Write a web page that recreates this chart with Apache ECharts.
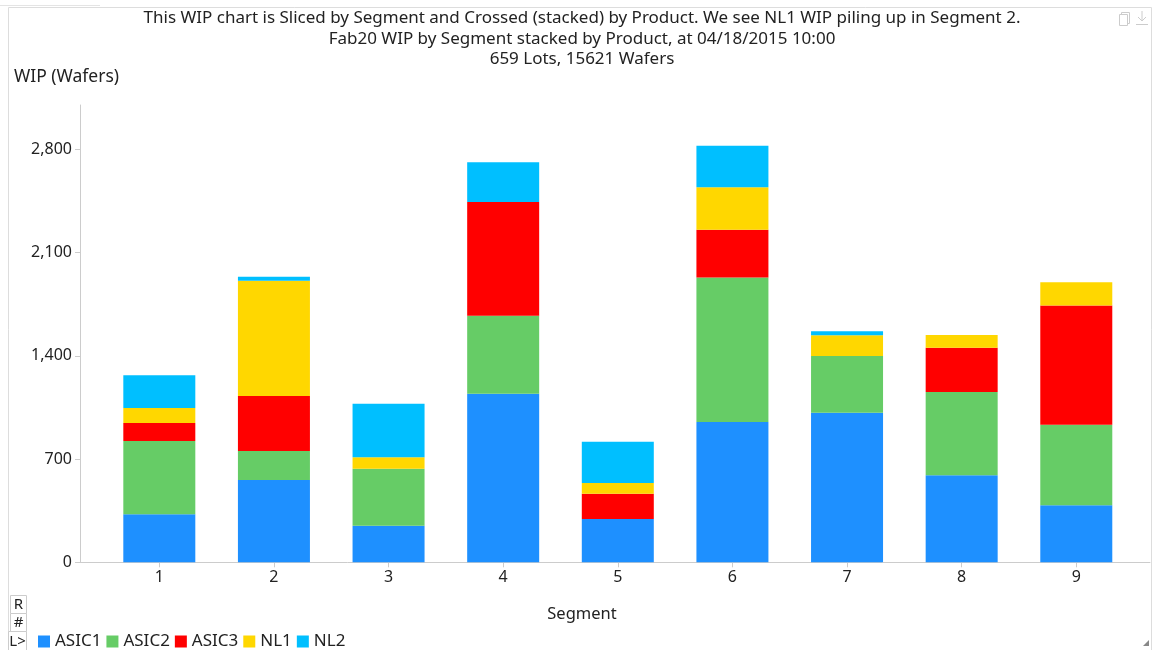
<!DOCTYPE html>
<html>
<head>
<meta charset="utf-8">
<script src="https://cdn.jsdelivr.net/npm/echarts@6/dist/echarts.min.js"></script>
<style>html,body{margin:0;padding:0;background:#fff;}#c{width:1156px;height:650px;}</style>
</head>
<body>
<div id="c"></div>
<script>
var categories = ['1','2','3','4','5','6','7','8','9'];
var seriesNames = ['ASIC1','ASIC2','ASIC3','NL1','NL2'];
var asic1 = [325, 558, 248, 1143, 294, 951, 1014, 590, 386];
var asic2 = [497, 197, 387, 529, 0, 979, 385, 565, 547];
var asic3 = [122, 373, 0, 771, 171, 325, 0, 300, 807];
var nl1   = [102, 781, 77, 0, 73, 288, 140, 86, 158];
var nl2   = [222, 27, 363, 269, 280, 280, 27, 0, 0];
var yTicks = [0, 700, 1400, 2100, 2800];
var titleLines = [
  'This WIP chart is Sliced by Segment and Crossed (stacked) by Product. We see NL1 WIP piling up in Segment 2.',
  'Fab20 WIP by Segment stacked by Product, at 04/18/2015 10:00',
  '659 Lots, 15621 Wafers'
];
var colors = ['#1E90FF', '#66CC66', '#FF0000', '#FFD700', '#00BFFF'];
var allValues = [asic1, asic2, asic3, nl1, nl2];

var FONT = '"Noto Sans", "Open Sans", sans-serif';
var TXT = '#222';
var chart = echarts.init(document.getElementById('c'), null, {renderer: 'canvas'});

var series = seriesNames.map(function (name, s) {
  return {
    name: name,
    type: 'bar',
    stack: 'total',
    barWidth: 72,
    xAxisIndex: 0, yAxisIndex: 0,
    itemStyle: {color: colors[s]},
    data: allValues[s].slice()
  };
});

chart.setOption({
  animation: false,
  textStyle: {fontFamily: FONT},
  title: [{
    text: titleLines.join('\n'),
    left: 582, textAlign: 'center', top: 8, padding: 0,
    textStyle: {fontFamily: FONT, fontSize: 17, fontWeight: 'normal', color: TXT, lineHeight: 20.5}
  }, {
    text: 'WIP (Wafers)',
    left: 14, top: 68, padding: 0,
    textStyle: {fontFamily: FONT, fontSize: 17.5, fontWeight: 'normal', color: TXT}
  }, {
    text: 'Segment',
    left: 582, textAlign: 'center', top: 606, padding: 0,
    textStyle: {fontFamily: FONT, fontSize: 16.5, fontWeight: 'normal', color: TXT}
  }],
  legend: {
    left: 38, top: 633, padding: 0,
    itemWidth: 12, itemHeight: 12, itemGap: 5,
    icon: 'rect',
    textStyle: {fontFamily: FONT, fontSize: 17, color: TXT},
    data: seriesNames
  },
  grid: [
    {left: 102, right: 22.4, top: 105, bottom: 87.7, containLabel: false},
    {left: 80, right: 6, top: 105, bottom: 87.7, containLabel: false}
  ],
  xAxis: [{
    type: 'category', gridIndex: 0,
    data: categories,
    boundaryGap: true,
    axisLine: {show: false},
    axisTick: {show: true, alignWithLabel: true, length: 5, lineStyle: {color: '#ccc'}},
    axisLabel: {margin: 7, fontSize: 16, color: TXT, fontFamily: FONT},
    splitLine: {show: false}
  }, {
    type: 'value', gridIndex: 1, min: 0, max: 1,
    axisLine: {show: true, lineStyle: {color: '#ccc'}},
    axisTick: {show: false}, axisLabel: {show: false}, splitLine: {show: false}
  }],
  yAxis: [{
    type: 'value', gridIndex: 0,
    min: 0, max: 3100, interval: 700,
    axisLine: {show: false}, axisTick: {show: false}, axisLabel: {show: false}, splitLine: {show: false}
  }, {
    type: 'value', gridIndex: 1,
    min: 0, max: 3100, interval: 700,
    axisLine: {show: true, lineStyle: {color: '#ccc'}},
    axisTick: {show: true, length: 5, lineStyle: {color: '#ccc'}},
    axisLabel: {fontSize: 16, color: TXT, fontFamily: FONT, margin: 8, showMaxLabel: false,
      formatter: function (v) { return yTicks.indexOf(v) >= 0 ? v.toLocaleString('en-US') : ''; }},
    splitLine: {show: false}
  }],
  graphic: [
    {type: 'rect', shape: {x: 8.5, y: 7.5, width: 1143, height: 650}, style: {fill: 'none', stroke: '#ddd', lineWidth: 1}, silent: true},
    {type: 'line', shape: {x1: 0, y1: 5.5, x2: 100, y2: 5.5}, style: {stroke: '#e4e4e4', lineWidth: 1}},
    {type: 'rect', shape: {x: 10.5, y: 595.5, width: 16, height: 18}, style: {fill: '#fff', stroke: '#ccc'}},
    {type: 'text', x: 18.5, y: 604.5, style: {text: 'R', fontSize: 15, fontFamily: FONT, fill: TXT, align: 'center', verticalAlign: 'middle'}},
    {type: 'rect', shape: {x: 10.5, y: 613.5, width: 16, height: 18}, style: {fill: '#fff', stroke: '#ccc'}},
    {type: 'text', x: 18.5, y: 622.5, style: {text: '#', fontSize: 15, fontFamily: FONT, fill: TXT, align: 'center', verticalAlign: 'middle'}},
    {type: 'rect', shape: {x: 8.5, y: 631.5, width: 18, height: 20}, style: {fill: '#fff', stroke: '#ccc'}},
    {type: 'text', x: 17.5, y: 641.5, style: {text: 'L>', fontSize: 15, fontFamily: FONT, fill: TXT, align: 'center', verticalAlign: 'middle'}},
    {type: 'rect', shape: {x: 1121.5, y: 12.5, width: 8, height: 11}, style: {fill: '#fff', stroke: '#ccc'}},
    {type: 'rect', shape: {x: 1119.5, y: 14.5, width: 8, height: 11}, style: {fill: '#fff', stroke: '#ccc'}},
    {type: 'polyline', shape: {points: [[1142, 11], [1142, 21]]}, style: {stroke: '#ccc', fill: 'none'}},
    {type: 'polyline', shape: {points: [[1138, 17], [1142, 21], [1146, 17]]}, style: {stroke: '#ccc', fill: 'none'}},
    {type: 'polyline', shape: {points: [[1136, 24.5], [1148, 24.5]]}, style: {stroke: '#ccc', fill: 'none'}},
    {type: 'polygon', shape: {points: [[1149, 640], [1149, 646], [1143, 646]]}, style: {fill: '#888'}}
  ],
  series: series
});
</script>
</body>
</html>
